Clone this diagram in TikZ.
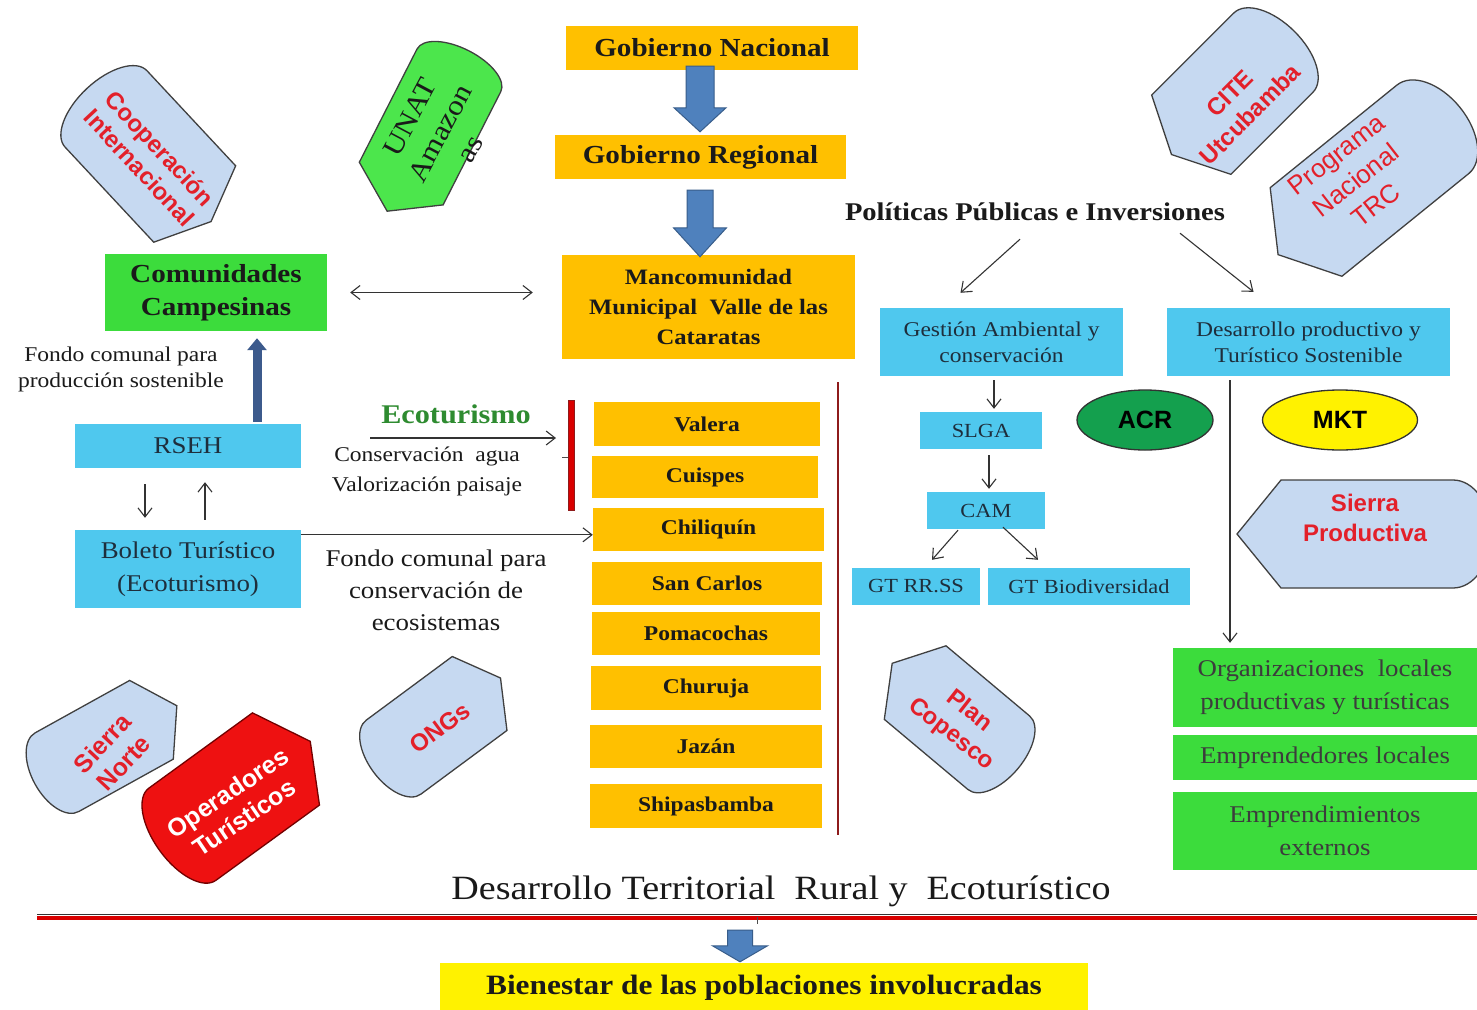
\documentclass[tikz,border=0pt]{standalone}
\usepackage{fontspec}
\setmainfont{Liberation Serif}[FakeStretch=1.12]
\newfontfamily\sansf{Liberation Sans}
\usetikzlibrary{arrows.meta,calc,shapes.geometric}
\definecolor{orng}{HTML}{FFC000}
\definecolor{cyanb}{HTML}{4FC8EE}
\definecolor{grn}{HTML}{3CDC3C}
\definecolor{unatg}{HTML}{4CE64C}
\definecolor{acrg}{HTML}{14A04E}
\definecolor{lblue}{HTML}{C6D9F1}
\definecolor{redt}{HTML}{E3202A}
\definecolor{barf}{HTML}{4F81BD}
\definecolor{bard}{HTML}{385D8A}
\definecolor{darkar}{HTML}{3C5A8C}
\definecolor{txt}{HTML}{1A1A1A}
\definecolor{ctxt}{HTML}{1E2E3C}
\definecolor{darkred}{HTML}{8E1B1B}
\definecolor{ecog}{HTML}{2E8B30}
\definecolor{opred}{HTML}{EE1111}
\newcommand\fsz[2]{\fontsize{#1}{#2}\selectfont}
\tikzset{
 mytip/.tip={Straight Barb[length=9pt,width=14pt]},
 obox/.style={fill=orng, inner sep=0pt, text=txt, align=center},
 cbox/.style={fill=cyanb, inner sep=0pt, text=ctxt, align=center},
 gbox/.style={fill=grn, inner sep=0pt, text=txt!85, align=center},
 plain/.style={inner sep=0pt, text=txt, align=center},
 arr/.style={draw=black!80, line width=1.1pt, -mytip},
 darr/.style={draw=black!80, line width=1.1pt, mytip-mytip},
 barrow/.style={fill=barf, draw=bard, line width=1pt, line join=miter},
 lbshape/.style={fill=lblue, draw=black!75, line width=1.3pt},
 redlab/.style={text=redt, align=center, inner sep=0pt},
}
% display shape: #1 style, #2 centre, #3 angle of rounded end, #4 half length, #5 half height, #6 point depth, #7 round radius
\newcommand\dispshape[7]{%
 \draw[#1, shift={#2}, rotate=#3] (-#4,0) -- (-#4+#6,-#5) -- (#4-#7,-#5)
  .. controls (#4-0.448*#7,-#5) and (#4,-0.552*#5) .. (#4,0)
  .. controls (#4,0.552*#5) and (#4-0.448*#7,#5) .. (#4-#7,#5)
  -- (-#4+#6,#5) -- cycle;}
% block arrow: #1 x, #2 from, #3 to, #4 half shaft, #5 half head, #6 head length
\newcommand\blockarrow[6]{%
 \draw[barrow] let \p1=#2, \p2=#3 in
  (#1pt-#4pt,\y1) -- (#1pt+#4pt,\y1) -- (#1pt+#4pt,\y2+#6pt) -- (#1pt+#5pt,\y2+#6pt)
  -- (#1pt,\y2) -- (#1pt-#5pt,\y2+#6pt) -- (#1pt-#4pt,\y2+#6pt) -- cycle;}
\begin{document}
\begin{tikzpicture}[x=1pt,y=-1pt]
\useasboundingbox (0,0) rectangle (1477,1009);
\clip (0,0) rectangle (1477,1009);
\fill[white] (0,0) rectangle (1477,1009);

% ---------- decorative shapes ----------
\dispshape{lbshape}{(149,155)}{133}{91}{56}{24}{28}
\dispshape{lbshape, fill=unatg}{(428,131)}{63}{90}{47}{31}{22}
\dispshape{lbshape}{(1233,93)}{45}{87}{56}{28}{30}
\dispshape{lbshape}{(1369,181)}{39}{117}{57}{36}{35}
\dispshape{lbshape}{(1364,534)}{0}{127}{54}{44}{38}
\dispshape{lbshape}{(955,716)}{-40}{82}{48}{30}{25}
\dispshape{lbshape}{(437,725)}{216.5}{79}{46}{26}{25}
\dispshape{lbshape}{(106,745)}{209}{81}{45}{29}{25}
\dispshape{lbshape, fill=opred, draw=red!45!black}{(235,796)}{216}{93}{57}{30}{28}

\node[redlab, rotate=-47, font=\sansf\bfseries\fsz{24}{28}] (coop) at (150,158) {Cooperación\\Internacional};
\node[plain, rotate=62, font=\fsz{28}{34}] (unat) at (440,133) {UNAT\\Amazon\\as};
\node[redlab, rotate=45, font=\sansf\bfseries\fsz{24}{29}] (cite) at (1240,104) {CITE\\Utcubamba};
\node[redlab, rotate=38, font=\sansf\fsz{26}{32}] (pnt) at (1356,180) {Programa\\Nacional\\TRC};
\node[redlab, font=\sansf\bfseries\fsz{24}{30}] (sp) at (1365,518) {Sierra\\Productiva};
\node[redlab, rotate=-38, font=\sansf\bfseries\fsz{24}{29}] (pc) at (960,723) {Plan\\Copesco};
\node[redlab, rotate=36.5, font=\sansf\bfseries\fsz{24}{28}] (ongs) at (440,728) {ONGs};
\node[redlab, rotate=47, font=\sansf\bfseries\fsz{25}{29}] (sn) at (113,753) {Sierra\\Norte};
\node[redlab, text=white, rotate=34, font=\sansf\bfseries\fsz{25}{30}] (op) at (236,805) {Operadores\\Turísticos};

% ---------- central column ----------
\node[obox, minimum width=292pt, minimum height=44pt, font=\bfseries\fsz{26}{30}] (gn) at (712,48) {Gobierno Nacional};
\node[obox, minimum width=291pt, minimum height=44pt, font=\bfseries\fsz{26}{30}] (gr) at (700.5,157) {Gobierno Regional};
\node[obox, minimum width=293pt, minimum height=104pt, font=\bfseries\fsz{22}{30}] (mm) at (708.5,307) {Mancomunidad\\Municipal\ \ Valle de las\\Cataratas};
\blockarrow{700}{([yshift=4pt]gn.south)}{([yshift=3pt]gr.north)}{14}{26}{24}
\blockarrow{700}{([yshift=-11pt]gr.south)}{([yshift=-2pt]mm.north)}{13}{26.5}{29}

\node[obox, minimum width=226pt, minimum height=44pt, font=\bfseries\fsz{21}{26}] (v1) at (707,424) {Valera};
\node[obox, minimum width=226pt, minimum height=42pt, font=\bfseries\fsz{21}{26}] (v2) at (705,477) {Cuispes};
\node[obox, minimum width=231pt, minimum height=43pt, font=\bfseries\fsz{21}{26}] (v3) at (708.5,529.5) {Chiliquín};
\node[obox, minimum width=230pt, minimum height=43pt, font=\bfseries\fsz{21}{26}] (v4) at (707,583.5) {San Carlos};
\node[obox, minimum width=228pt, minimum height=43pt, font=\bfseries\fsz{21}{26}] (v5) at (706,633.5) {Pomacochas};
\node[obox, minimum width=230pt, minimum height=44pt, font=\bfseries\fsz{21}{26}] (v6) at (706,688) {Churuja};
\node[obox, minimum width=232pt, minimum height=43pt, font=\bfseries\fsz{21}{26}] (v7) at (706,746.5) {Jazán};
\node[obox, minimum width=232pt, minimum height=44pt, font=\bfseries\fsz{21}{26}] (v8) at (706,806) {Shipasbamba};
\draw[darkred, line width=2pt] (838,382) -- (838,835);

% ---------- left part ----------
\node[gbox, text=txt, minimum width=222pt, minimum height=77pt, font=\bfseries\fsz{26}{33}] (cc) at (216,292.5) {Comunidades\\Campesinas};
\draw[darr, shorten <=23pt, shorten >=29pt] (cc.east) -- (cc.east -| mm.west);
\node[plain, font=\fsz{21}{26}] (fcp) at (121,369) {Fondo comunal para\\producción sostenible};
\node[cbox, minimum width=226pt, minimum height=44pt, font=\fsz{24}{28}] (rseh) at (188,446) {RSEH};
\node[cbox, minimum width=226pt, minimum height=78pt, font=\fsz{24}{33}] (bol) at (188,569) {Boleto Turístico\\(Ecoturismo)};
\draw[darkar, line width=9pt, -{Triangle[length=12pt,width=19pt]}, shorten >=7pt]
  ([xshift=69pt,yshift=2pt]rseh.north) -- ([xshift=69pt]rseh.north |- cc.south);
\draw[arr, shorten <=16pt, shorten >=12pt] ([xshift=-43pt]rseh.south) -- ([xshift=-43pt]rseh.south |- bol.north);
\draw[arr, shorten <=10pt, shorten >=14pt] ([xshift=17pt]bol.north) -- ([xshift=17pt]bol.north |- rseh.south);
\draw[arr] ([yshift=-5pt]bol.north east) -- ([yshift=-5pt]bol.north east -| v3.west);

\node[plain, text=ecog, font=\bfseries\fsz{27}{30}] (eco) at (456,414) {Ecoturismo};
\coordinate (es) at (370,438);
\coordinate (bk) at (568,438);
\draw[arr, shorten >=12pt] (es) -- (bk);
\node[plain, font=\fsz{21}{30}] (cva) at (427,471) {Conservación\ \ agua\\Valorización paisaje};
\fill[draw=darkred, fill=red!85!black, line width=0.8pt] (568,400) rectangle (574,510);
\draw[black!70, line width=1pt] (562,457) -- (568,457);
\node[plain, font=\fsz{24}{32}] (fcc) at (436,590) {Fondo comunal para\\conservación de\\ecosistemas};

% ---------- right part ----------
\node[plain, font=\bfseries\fsz{25.5}{30}] (pol) at (1035,212) {Políticas Públicas e Inversiones};
\node[cbox, minimum width=243pt, minimum height=68pt, font=\fsz{21}{26}] (gest) at (1001.5,342) {Gestión Ambiental y\\conservación};
\node[cbox, minimum width=283pt, minimum height=68pt, font=\fsz{21}{26}] (desp) at (1308.5,342) {Desarrollo productivo y\\Turístico Sostenible};
\draw[arr] ($(pol.south)+(-15,18)$) -- ($(gest.north)+(-41,-15)$);
\draw[arr] ($(pol.south)+(145,12)$) -- ($(desp.north)+(-55,-16)$);
\node[cbox, minimum width=122pt, minimum height=37pt, font=\fsz{20}{24}] (slga) at (981,430.5) {SLGA};
\node[cbox, minimum width=118pt, minimum height=37pt, font=\fsz{20}{24}] (cam) at (986,510.5) {CAM};
\node[cbox, minimum width=128pt, minimum height=37pt, font=\fsz{20}{24}] (gtr) at (916,586.5) {GT RR.SS};
\node[cbox, minimum width=202pt, minimum height=37pt, font=\fsz{20}{24}] (gtb) at (1089,586.5) {GT Biodiversidad};
\draw[arr, shorten <=4pt, shorten >=3pt] ([xshift=-7.5pt]gest.south) -- ([xshift=-7.5pt]gest.south |- slga.north);
\draw[arr, shorten <=6pt, shorten >=3pt] ([xshift=8pt]slga.south) -- ([xshift=8pt]slga.south |- cam.north);
\draw[arr] ($(cam.south)+(-28,1)$) -- ($(gtr.north)+(16,-8)$);
\draw[arr] ($(cam.south)+(17,-2)$) -- ($(gtb.north)+(-51,-8)$);
\node[ellipse, draw=black!80, line width=1.3pt, fill=acrg, minimum width=136pt, minimum height=60pt, inner sep=0pt, font=\sansf\bfseries\fsz{25}{30}] (acr) at (1145,420) {ACR};
\node[ellipse, draw=black!80, line width=1.3pt, fill=yellow, minimum width=155pt, minimum height=60pt, inner sep=0pt, font=\sansf\bfseries\fsz{25}{30}] (mkt) at (1340,420) {MKT};

\node[gbox, minimum width=304pt, minimum height=79pt, font=\fsz{24}{33}] (org) at (1325,687.5) {Organizaciones\ \ locales\\productivas y turísticas};
\node[gbox, minimum width=304pt, minimum height=45pt, font=\fsz{24}{30}] (emp) at (1325,757.5) {Emprendedores locales};
\node[gbox, minimum width=304pt, minimum height=78pt, font=\fsz{24}{33}] (ext) at (1325,831) {Emprendimientos\\externos};
\draw[arr, shorten <=4pt, shorten >=5pt] ([xshift=-78.5pt]desp.south) -- ([xshift=-78.5pt]desp.south |- org.north);

% ---------- bottom ----------
\node[plain, font=\fsz{34}{40}] (dtr) at (781,891) {Desarrollo Territorial\ \ Rural y\ \ Ecoturístico};
\draw[red!85!black, line width=4pt] (37,917.5) -- (1477,917.5);
\draw[black!80, line width=0.8pt] (37,914.5) -- (1477,914.5);
\coordinate (rl) at (757,917);
\draw[black!70, line width=0.8pt] (rl) -- ++(0,7);
\node[fill=yellow, inner sep=0pt, minimum width=648pt, minimum height=50pt, font=\bfseries\fsz{28}{32}, text=txt] (bien) at (764,988) {Bienestar de las poblaciones involucradas};
\blockarrow{740}{([yshift=-13pt]rl)}{([yshift=1pt]bien.north)}{12.5}{27.5}{16}
\end{tikzpicture}
\end{document}
